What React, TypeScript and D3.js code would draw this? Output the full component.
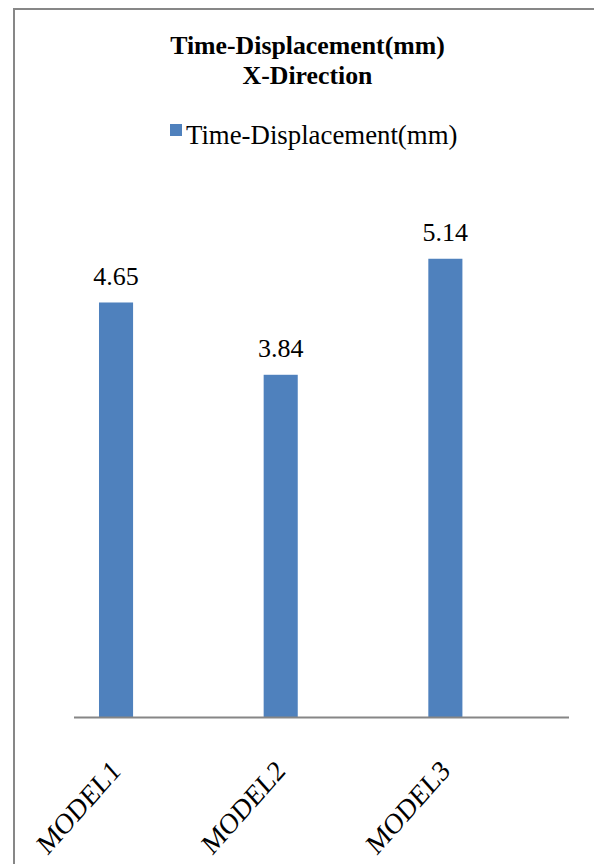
import React from "react";
import * as d3 from "d3";

const categories = ["MODEL1", "MODEL2", "MODEL3"];
const values = [4.65, 3.84, 5.14];
const valueLabels = ["4.65", "3.84", "5.14"];
const seriesName = "Time-Displacement(mm)";
const titleLines = ["Time-Displacement(mm)", "X-Direction"];

const W = 594;
const H = 864;
const FONT = "'Liberation Serif', 'Times New Roman', Times, serif";

export default function App() {
  const baseY = 717.5;
  const x = d3
    .scaleBand<string>()
    .domain(categories)
    .range([33.7, 527.7])
    .paddingInner(0.793)
    .paddingOuter(0.3965);
  const y = d3.scaleLinear().domain([0, 6]).range([baseY, baseY - 535.5]);

  return (
    <svg
      width={W}
      height={H}
      style={{ position: "absolute", left: 0, top: 0, background: "#fff" }}
    >
      <rect x={0} y={0} width={W} height={H} fill="#fff" />
      {/* chart border (top & left visible) */}
      <line x1={14} y1={9} x2={W} y2={9} stroke="#878787" strokeWidth={2} />
      <line x1={14} y1={8} x2={14} y2={H} stroke="#878787" strokeWidth={2} />

      {/* title */}
      <text x={307.5} y={54} textAnchor="middle" fontFamily={FONT} fontWeight="bold" fontSize={25.8} fill="#000">
        {titleLines[0]}
      </text>
      <text x={307.5} y={84} textAnchor="middle" fontFamily={FONT} fontWeight="bold" fontSize={25.8} fill="#000">
        {titleLines[1]}
      </text>

      {/* legend */}
      <rect x={170} y={124} width={12} height={12} fill="#4F81BD" />
      <text x={186} y={144} fontFamily={FONT} fontSize={26.8} fill="#000">
        {seriesName}
      </text>

      {/* bars */}
      {categories.map((c, i) => (
        <g key={c}>
          <rect
            x={x(c)!}
            y={y(values[i])}
            width={x.bandwidth()}
            height={baseY - y(values[i])}
            fill="#4F81BD"
          />
          <text
            x={x(c)! + x.bandwidth() / 2}
            y={y(values[i]) - 17.5}
            textAnchor="middle"
            fontFamily={FONT}
            fontSize={26}
            fill="#000"
          >
            {valueLabels[i]}
          </text>
          <text
            transform={`translate(${x(c)! + x.bandwidth() / 2 + 6},${baseY + 55}) scale(1,1.12) rotate(-45)`}
            textAnchor="end"
            fontFamily={FONT}
            fontSize={26}
            fill="#000"
          >
            {c}
          </text>
        </g>
      ))}

      {/* category axis line */}
      <line x1={74} y1={baseY} x2={569} y2={baseY} stroke="#868686" strokeWidth={2} />
    </svg>
  );
}
